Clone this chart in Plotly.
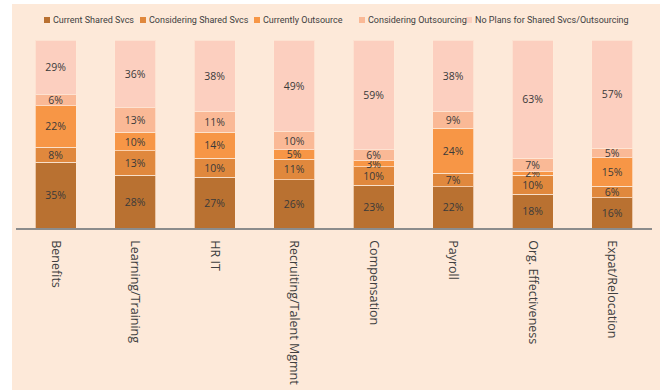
import plotly.graph_objects as go

categories = ["Benefits", "Learning/Training", "HR IT", "Recruiting/Talent Mgmnt",
              "Compensation", "Payroll", "Org. Effectiveness", "Expat/Relocation"]
series_names = ["Current Shared Svcs", "Considering Shared Svcs", "Currently Outsource",
                "Considering Outsourcing", "No Plans for Shared Svcs/Outsourcing"]
current_shared = [35, 28, 27, 26, 23, 22, 18, 16]
considering_shared = [8, 13, 10, 11, 10, 7, 10, 6]
currently_outsource = [22, 10, 14, 5, 3, 24, 2, 15]
considering_outsourcing = [6, 13, 11, 10, 6, 9, 7, 5]
no_plans = [29, 36, 38, 49, 59, 38, 63, 57]

series_values = [current_shared, considering_shared, currently_outsource,
                 considering_outsourcing, no_plans]
colors = ["#B97131", "#E0883D", "#F79646", "#FAB996", "#FCCFBF"]

fig = go.Figure()
for name, vals, col in zip(series_names, series_values, colors):
    fig.add_trace(go.Bar(
        x=categories, y=vals, name=name,
        marker=dict(color=col, line=dict(color="rgba(253,233,217,0.7)", width=1)),
        text=[f"{v}%" for v in vals], textposition="inside",
        insidetextanchor="middle", textangle=0, constraintext="none",
        textfont=dict(family="Open Sans, sans-serif", size=10.5, color="#3A3A3A"),
        hoverinfo="skip", showlegend=False,
    ))

# plot area in px: x 16..652, y 40..228
L, R, T, B = 16, 652, 40, 228
W, H = R - L, B - T
def px(x): return (x - L) / W
def py(y): return (B - y) / H

fig.add_shape(type="rect", xref="paper", yref="paper",
              x0=px(12), x1=px(660), y0=py(390), y1=py(4),
              fillcolor="#FDE9D9", line=dict(width=0), layer="below")

# legend drawn as swatches + text, in one row as in the reference
legend_marker_x = [44, 140, 254, 359, 466]
for name, col, mx in zip(series_names, colors, legend_marker_x):
    fig.add_shape(type="rect", xref="paper", yref="paper",
                  x0=px(mx), x1=px(mx + 6), y0=py(23), y1=py(17),
                  fillcolor=col, line=dict(width=0))
    fig.add_annotation(xref="paper", yref="paper", x=px(mx + 7), y=py(20),
                       xanchor="left", yanchor="middle", showarrow=False,
                       text=name, font=dict(family="Roboto, sans-serif",
                                            size=9, color="#404040"))

fig.update_layout(
    barmode="stack", barnorm="percent", bargap=0.49,
    width=661, height=390,
    margin=dict(l=L, r=661 - R, t=T, b=390 - B, autoexpand=False),
    paper_bgcolor="white", plot_bgcolor="rgba(0,0,0,0)",
    font=dict(family="Open Sans, sans-serif", color="#404040"),
    showlegend=False,
    xaxis=dict(tickangle=90, showline=True, linecolor="#8C8C8C", linewidth=1.5,
               ticks="", ticklabelstandoff=8, automargin=False,
               tickfont=dict(size=12.5, color="#404040"), fixedrange=True),
    yaxis=dict(range=[0, 100], visible=False, fixedrange=True),
)

fig.write_html("out.html", config={"displayModeBar": False})
